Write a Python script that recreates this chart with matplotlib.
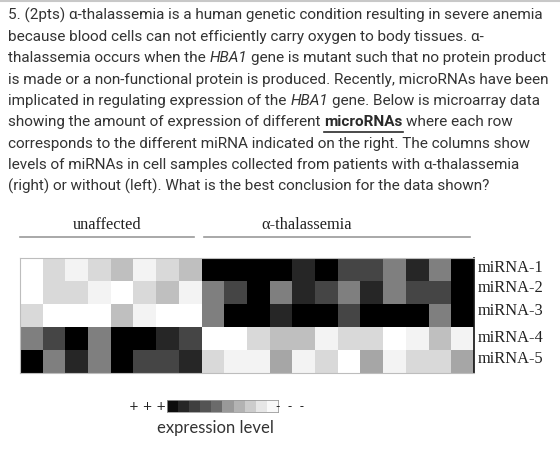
import numpy as np
import matplotlib
matplotlib.use("Agg")
import matplotlib.pyplot as plt
from matplotlib.lines import Line2D

W, H = 560, 455

# ---------------- data ----------------
mirnas = ["miRNA-1", "miRNA-2", "miRNA-3", "miRNA-4", "miRNA-5"]
groups = ["unaffected", "α-thalassemia"]
n_unaffected = 8
n_thal = 12
# expression level (0 = low / white, 1 = high / black)
mirna1 = [0.00, 0.15, 0.05, 0.15, 0.25, 0.05, 0.15, 0.25,
          1.00, 1.00, 1.00, 1.00, 0.85, 1.00, 0.73, 0.73, 0.50, 0.85, 0.50, 1.00]
mirna2 = [0.00, 0.15, 0.15, 0.05, 0.00, 0.15, 0.25, 0.05,
          0.50, 0.73, 1.00, 0.50, 0.85, 0.73, 0.50, 0.85, 0.50, 0.73, 0.73, 1.00]
mirna3 = [0.15, 0.00, 0.00, 0.00, 0.25, 0.05, 0.00, 0.00,
          0.50, 1.00, 1.00, 0.85, 1.00, 1.00, 0.73, 1.00, 1.00, 1.00, 0.50, 1.00]
mirna4 = [0.50, 0.73, 1.00, 0.50, 1.00, 1.00, 0.85, 0.73,
          0.00, 0.00, 0.15, 0.25, 0.25, 0.05, 0.15, 0.15, 0.00, 0.05, 0.25, 0.05]
mirna5 = [1.00, 0.50, 0.85, 0.50, 1.00, 0.73, 0.73, 0.85,
          0.15, 0.05, 0.05, 0.35, 0.05, 0.15, 0.00, 0.35, 0.05, 0.15, 0.15, 0.35]
# legend scale, from high (left, "+++") to low (right, "---")
legend_levels = [0.95, 0.85, 0.75, 0.67, 0.58, 0.40, 0.30, 0.20, 0.10, 0.03]

paragraph = [
    [("5. (2pts) α-thalassemia is a human genetic condition resulting in severe anemia", "n")],
    [("because blood cells can not efficiently carry oxygen to body tissues. α-", "n")],
    [("thalassemia occurs when the ", "n"), ("HBA1", "i"), (" gene is mutant such that no protein product", "n")],
    [("is made or a non-functional protein is produced. Recently, microRNAs have been", "n")],
    [("implicated in regulating expression of the ", "n"), ("HBA1", "i"), (" gene. Below is microarray data", "n")],
    [("showing the amount of expression of different ", "n"), ("microRNAs", "b"), (" where each row", "n")],
    [("corresponds to the different miRNA indicated on the right. The columns show", "n")],
    [("levels of miRNAs in cell samples collected from patients with α-thalassemia", "n")],
    [("(right) or without (left). What is the best conclusion for the data shown?", "n")],
]

# ---------------- figure ----------------
fig = plt.figure(figsize=(W / 100, H / 100), dpi=100)
fig.patch.set_facecolor("white")
renderer = fig.canvas.get_renderer()


def fx(x):
    return x / W


def fy(y):
    return 1 - y / H


# top grey rule
fig.add_artist(Line2D([0, 1], [fy(0.5), fy(0.5)], color="#c8c8c8", lw=1.5))

# paragraph text with mixed styles
txt_color = "#333333"
font_para = "Roboto"
styles = {"n": dict(style="normal", weight="normal"),
          "i": dict(style="italic", weight="normal"),
          "b": dict(style="normal", weight="bold")}


def text_width(s, fs, **kw):
    t = fig.text(0, 0, s, fontsize=fs, family=font_para, **kw)
    w = t.get_window_extent(renderer=renderer).width
    t.remove()
    return w


# fit the font size so the 4th line spans ~540 px as in the reference
ref_line = paragraph[3][0][0]
fs_para = 12.0 * 540.0 / text_width(ref_line, 12.0)

space_w = text_width("n n", fs_para) - text_width("nn", fs_para)

x0 = 8
y_first = 15.5
dy = 21.4
for i, runs in enumerate(paragraph):
    y = y_first + i * dy
    x = x0
    for s, st in runs:
        lead = len(s) - len(s.lstrip(" "))
        trail = len(s) - len(s.rstrip(" "))
        core = s.strip(" ")
        x += lead * space_w
        col = "#2a2a2a" if st == "b" else txt_color
        t = fig.text(fx(x), fy(y), core, fontsize=fs_para, family=font_para,
                     color=col, va="center", ha="left", **styles[st])
        w = t.get_window_extent(renderer=renderer).width
        if st == "b":
            fig.add_artist(Line2D([fx(x), fx(x + w)], [fy(y + 9), fy(y + 9)],
                                  color="#2a2a2a", lw=1.2))
        x += w + trail * space_w

# ---------------- heatmap ----------------
left, right, top, bottom = 20, 474, 258, 373
ax = fig.add_axes([fx(left), fy(bottom), fx(right) - fx(left), (bottom - top) / H])
data = np.array([mirna1, mirna2, mirna3, mirna4, mirna5])
ax.imshow(data, cmap="gray_r", vmin=0, vmax=1, aspect="auto",
          interpolation="nearest")
ax.set_xticks([])
ax.set_yticks([])
for side in ["top", "left", "bottom"]:
    ax.spines[side].set_color("#bdbdbd")
    ax.spines[side].set_linewidth(0.8)
ax.spines["right"].set_color("#111111")
ax.spines["right"].set_linewidth(1.2)

# group headers
serif = "Liberation Serif"
n_total = n_unaffected + n_thal
cell_w = (right - left) / n_total
ux0, ux1 = left, left + n_unaffected * cell_w - 8
tx0, tx1 = left + n_unaffected * cell_w + 2, right - 4
fig.text(fx((ux0 + ux1) / 2), fy(225), groups[0], family=serif, fontsize=11.8,
         color="#222222", ha="center", va="center")
fig.text(fx(307), fy(225), groups[1], family=serif, fontsize=11.8,
         color="#222222", ha="center", va="center")
fig.add_artist(Line2D([fx(ux0), fx(ux1)], [fy(237), fy(237)], color="#9a9a9a", lw=1.2))
fig.add_artist(Line2D([fx(tx0), fx(tx1)], [fy(237), fy(237)], color="#9a9a9a", lw=1.2))

# row labels
label_y = [268, 288, 311, 338, 359]
for lab, yy in zip(mirnas, label_y):
    fig.text(fx(478), fy(yy), lab, family=serif, fontsize=11.8, color="#222222",
             ha="left", va="center")

# ---------------- legend ----------------
lax = fig.add_axes([fx(167), fy(412), fx(278) - fx(167), 12 / H])
lax.imshow(np.array([legend_levels]), cmap="gray_r", vmin=0, vmax=1, aspect="auto",
           interpolation="nearest")
lax.set_xticks([])
lax.set_yticks([])
for s in lax.spines.values():
    s.set_color("#999999")
    s.set_linewidth(0.6)
fig.text(fx(166), fy(406), "+ + +", family="DejaVu Sans", fontsize=8.5,
         color="#222222", ha="right", va="center")
fig.text(fx(276), fy(406), "-  -  -", family="DejaVu Sans", fontsize=8.5,
         color="#222222", ha="left", va="center")
fig.text(fx(215), fy(428), "expression level", family="Lato", fontsize=12,
         color="#333333", ha="center", va="center")

fig.savefig("out.png", dpi=100, facecolor="white")
